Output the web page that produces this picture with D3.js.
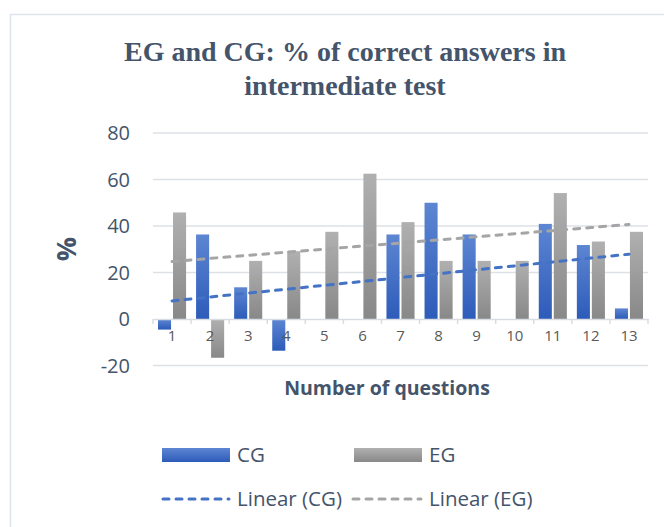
<!DOCTYPE html>
<html lang="en">
<head>
<meta charset="UTF-8" />
<title>EG and CG</title>
<script src="https://cdn.jsdelivr.net/npm/d3@7"></script>
<style>
  body { margin: 0; background: #fff; }
  text { font-family: "Open Sans", sans-serif; }
  .grid line { stroke: #dde1e6; stroke-width: 1.5px; }
  .title { font-family: "Liberation Serif", serif; font-weight: bold; font-size: 28px; fill: #44546a; }
  .ytick { font-size: 20px; fill: #44546a; }
  .xtick { font-size: 15px; fill: #595959; }
  .axis-title { font-weight: bold; fill: #44546a; }
  .legend text { font-size: 20.5px; fill: #44546a; }
  .trend { fill: none; stroke-width: 3px; stroke-linecap: round; stroke-dasharray: 6,7; }
</style>
</head>
<body>
<script>
// data
var questions = ["1","2","3","4","5","6","7","8","9","10","11","12","13"];
var cgValues = [-4.55, 36.36, 13.64, -13.64, 0, 0, 36.36, 50, 36.36, 0, 40.91, 31.82, 4.55];
var egValues = [45.83, -16.67, 25, 29.17, 37.5, 62.5, 41.67, 25, 25, 25, 54.17, 33.33, 37.5];
var yTicks = [-20, 0, 20, 40, 60, 80];

var w = 664, h = 527;

var svg = d3.select("body").append("svg")
  .attr("width", w)
  .attr("height", h);

var defs = svg.append("defs");
function grad(id, top, bottom) {
  var g = defs.append("linearGradient").attr("id", id)
    .attr("x1", 0).attr("y1", 0).attr("x2", 0).attr("y2", 1);
  g.append("stop").attr("offset", "0%").attr("stop-color", top);
  g.append("stop").attr("offset", "100%").attr("stop-color", bottom);
}
grad("gradCG", "#5d86d2", "#2d5bb9");
grad("gradEG", "#b0b0b0", "#888888");

// chart frame
svg.append("path")
  .attr("d", "M10.5," + h + "V14.5H" + w)
  .attr("fill", "none")
  .attr("stroke", "#dde3ea")
  .attr("stroke-width", 1.5);

// title
svg.append("text").attr("class", "title")
  .attr("x", 345).attr("y", 61).attr("text-anchor", "middle")
  .text("EG and CG: % of correct answers in");
svg.append("text").attr("class", "title")
  .attr("x", 345).attr("y", 95).attr("text-anchor", "middle")
  .text("intermediate test");

var xScale = d3.scaleBand()
  .domain(questions)
  .range([153, 648])
  .padding(0);

var yScale = d3.scaleLinear()
  .domain([-20, 80])
  .range([365.5, 133]);

var inner = d3.scaleBand()
  .domain(["CG", "EG"])
  .range([5, xScale.bandwidth() - 5])
  .paddingInner(0.13);

// gridlines
svg.append("g").attr("class", "grid")
  .selectAll("line")
  .data(yTicks.filter(function(d) { return d !== 0; }))
  .enter().append("line")
  .attr("x1", 153).attr("x2", 648)
  .attr("y1", function(d) { return yScale(d); })
  .attr("y2", function(d) { return yScale(d); });

// y labels
svg.append("g")
  .selectAll("text")
  .data(yTicks)
  .enter().append("text")
  .attr("class", "ytick")
  .attr("x", 130)
  .attr("y", function(d) { return yScale(d); })
  .attr("dy", "0.36em")
  .attr("text-anchor", "end")
  .text(function(d) { return d; });

// bars
var groups = svg.append("g")
  .selectAll("g")
  .data(questions)
  .enter().append("g")
  .attr("transform", function(d) { return "translate(" + xScale(d) + ",0)"; });

groups.append("rect")
  .attr("x", inner("CG"))
  .attr("width", inner.bandwidth())
  .attr("y", function(d, i) { return yScale(Math.max(0, cgValues[i])); })
  .attr("height", function(d, i) { return Math.abs(yScale(cgValues[i]) - yScale(0)); })
  .attr("fill", "url(#gradCG)");

groups.append("rect")
  .attr("x", inner("EG"))
  .attr("width", inner.bandwidth())
  .attr("y", function(d, i) { return yScale(Math.max(0, egValues[i])); })
  .attr("height", function(d, i) { return Math.abs(yScale(egValues[i]) - yScale(0)); })
  .attr("fill", "url(#gradEG)");

// zero axis with ticks
var xAxis = d3.axisBottom(xScale).tickSize(0).tickPadding(11);
var xg = svg.append("g")
  .attr("transform", "translate(0," + yScale(0) + ")")
  .call(xAxis);
xg.select(".domain").attr("stroke", "#d9dde3").attr("stroke-width", 1.5);
xg.selectAll(".tick text").attr("class", "xtick").attr("font-family", null).attr("font-size", null).attr("fill", null);
xg.selectAll(".bound")
  .data(d3.range(questions.length + 1))
  .enter().append("line")
  .attr("x1", function(i) { return 153 + i * xScale.step(); })
  .attr("x2", function(i) { return 153 + i * xScale.step(); })
  .attr("y1", 0).attr("y2", 5)
  .attr("stroke", "#d9dde3").attr("stroke-width", 1.5);

// linear trendlines (least squares on the values)
function trend(values) {
  var xs = values.map(function(v, i) { return i + 1; });
  var mx = d3.mean(xs), my = d3.mean(values);
  var sxy = d3.sum(values, function(v, i) { return (xs[i] - mx) * (v - my); });
  var sxx = d3.sum(xs, function(x) { return (x - mx) * (x - mx); });
  var b = sxy / sxx, a = my - b * mx;
  return questions.map(function(q, i) { return { q: q, v: a + b * (i + 1) }; });
}
var line = d3.line()
  .x(function(d) { return xScale(d.q) + xScale.bandwidth() / 2; })
  .y(function(d) { return yScale(d.v); });

svg.append("path").datum(trend(egValues)).attr("class", "trend")
  .attr("stroke", "#a5a5a5").attr("d", line);
svg.append("path").datum(trend(cgValues)).attr("class", "trend")
  .attr("stroke", "#4472c4").attr("d", line);

// axis titles
svg.append("text").attr("class", "axis-title")
  .attr("x", 387).attr("y", 395)
  .attr("text-anchor", "middle")
  .attr("font-size", "19.5px")
  .text("Number of questions");

svg.append("text").attr("class", "axis-title")
  .attr("transform", "translate(76,249) rotate(-90)")
  .attr("text-anchor", "middle")
  .attr("font-size", "27px")
  .text("%");

// legend
var legend = svg.append("g").attr("class", "legend");
legend.append("rect").attr("x", 162).attr("y", 448).attr("width", 68).attr("height", 14).attr("fill", "url(#gradCG)");
legend.append("text").attr("x", 237).attr("y", 455).attr("dy", "0.36em").text("CG");
legend.append("rect").attr("x", 354).attr("y", 448).attr("width", 68).attr("height", 14).attr("fill", "url(#gradEG)");
legend.append("text").attr("x", 429).attr("y", 455).attr("dy", "0.36em").text("EG");
legend.append("line").attr("class", "trend").attr("x1", 163).attr("x2", 229).attr("y1", 499).attr("y2", 499).attr("stroke", "#4472c4");
legend.append("text").attr("x", 237).attr("y", 499).attr("dy", "0.36em").text("Linear (CG)");
legend.append("line").attr("class", "trend").attr("x1", 353).attr("x2", 421).attr("y1", 499).attr("y2", 499).attr("stroke", "#a5a5a5");
legend.append("text").attr("x", 429).attr("y", 499).attr("dy", "0.36em").text("Linear (EG)");
</script>
</body>
</html>
